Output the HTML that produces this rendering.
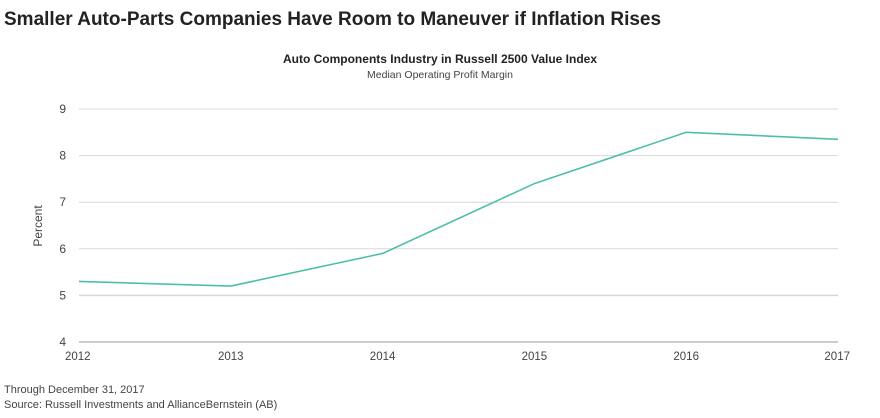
<!DOCTYPE html>
<html><head><meta charset="utf-8"><style>
body{margin:0;background:#fff;width:880px;height:413px;overflow:hidden;font-family:"Liberation Sans",sans-serif;}
</style></head><body>
<svg width="880" height="413">
<text x="4" y="25" font-size="19" font-weight="bold" fill="#222">Smaller Auto-Parts Companies Have Room to Maneuver if Inflation Rises</text>
<text x="440" y="63" font-size="12" font-weight="bold" text-anchor="middle" fill="#222">Auto Components Industry in Russell 2500 Value Index</text>
<text x="440" y="78" font-size="10.5" text-anchor="middle" fill="#444">Median Operating Profit Margin</text>
<text transform="translate(42,226) rotate(-90)" font-size="12" text-anchor="middle" fill="#444">Percent</text>
<g id="grid"></g><g id="ylab"></g><g id="xlab"></g>
<polyline id="line" fill="none" stroke="#4dbfa8" stroke-width="1.6"/>
<text x="4" y="393" font-size="11" fill="#444">Through December 31, 2017</text>
<text x="4" y="408" font-size="11" fill="#444">Source: Russell Investments and AllianceBernstein (AB)</text>
</svg>
<script>
const years=[2012,2013,2014,2015,2016,2017];
const values=[5.3,5.2,5.9,7.4,8.5,8.35];
const yTicks=[4,5,6,7,8,9];
const ns="http://www.w3.org/2000/svg";
const x0=79,x1=838,yTop=109,yBot=342;
function xs(i){return x0+(x1-x0)*i/(years.length-1);}
function ys(v){return yBot-(v-4)/5*(yBot-yTop);}
const g=document.getElementById('grid'),yl=document.getElementById('ylab'),xl=document.getElementById('xlab');
yTicks.forEach(t=>{
 const l=document.createElementNS(ns,'line');
 l.setAttribute('x1',x0);l.setAttribute('x2',x1);l.setAttribute('y1',ys(t));l.setAttribute('y2',ys(t));
 l.setAttribute('stroke',t==4?'#999':'#d8d8d8');l.setAttribute('stroke-width',t==5?1.5:1);
 
 
 g.appendChild(l);
 const tx=document.createElementNS(ns,'text');
 tx.setAttribute('x',66);tx.setAttribute('y',ys(t)+4);tx.setAttribute('font-size','12');tx.setAttribute('fill','#444');tx.setAttribute('text-anchor','end');
 tx.textContent=t;
 
 
 yl.appendChild(tx);
});
years.forEach((y,i)=>{
 const tx=document.createElementNS(ns,'text');
 tx.setAttribute('x',xs(i));tx.setAttribute('y',360);tx.setAttribute('font-size','11.5');tx.setAttribute('fill','#444');
 tx.setAttribute('text-anchor',i==0?'start':(i==years.length-1?'end':'middle'));
 if(i==0)tx.setAttribute('x',xs(i)-14);
 if(i==years.length-1)tx.setAttribute('x',xs(i)+12);
 tx.textContent=y;
 
 
 xl.appendChild(tx);
});
document.getElementById('line').setAttribute('points',values.map((v,i)=>xs(i)+','+ys(v)).join(' '));
</script>
</body></html>
